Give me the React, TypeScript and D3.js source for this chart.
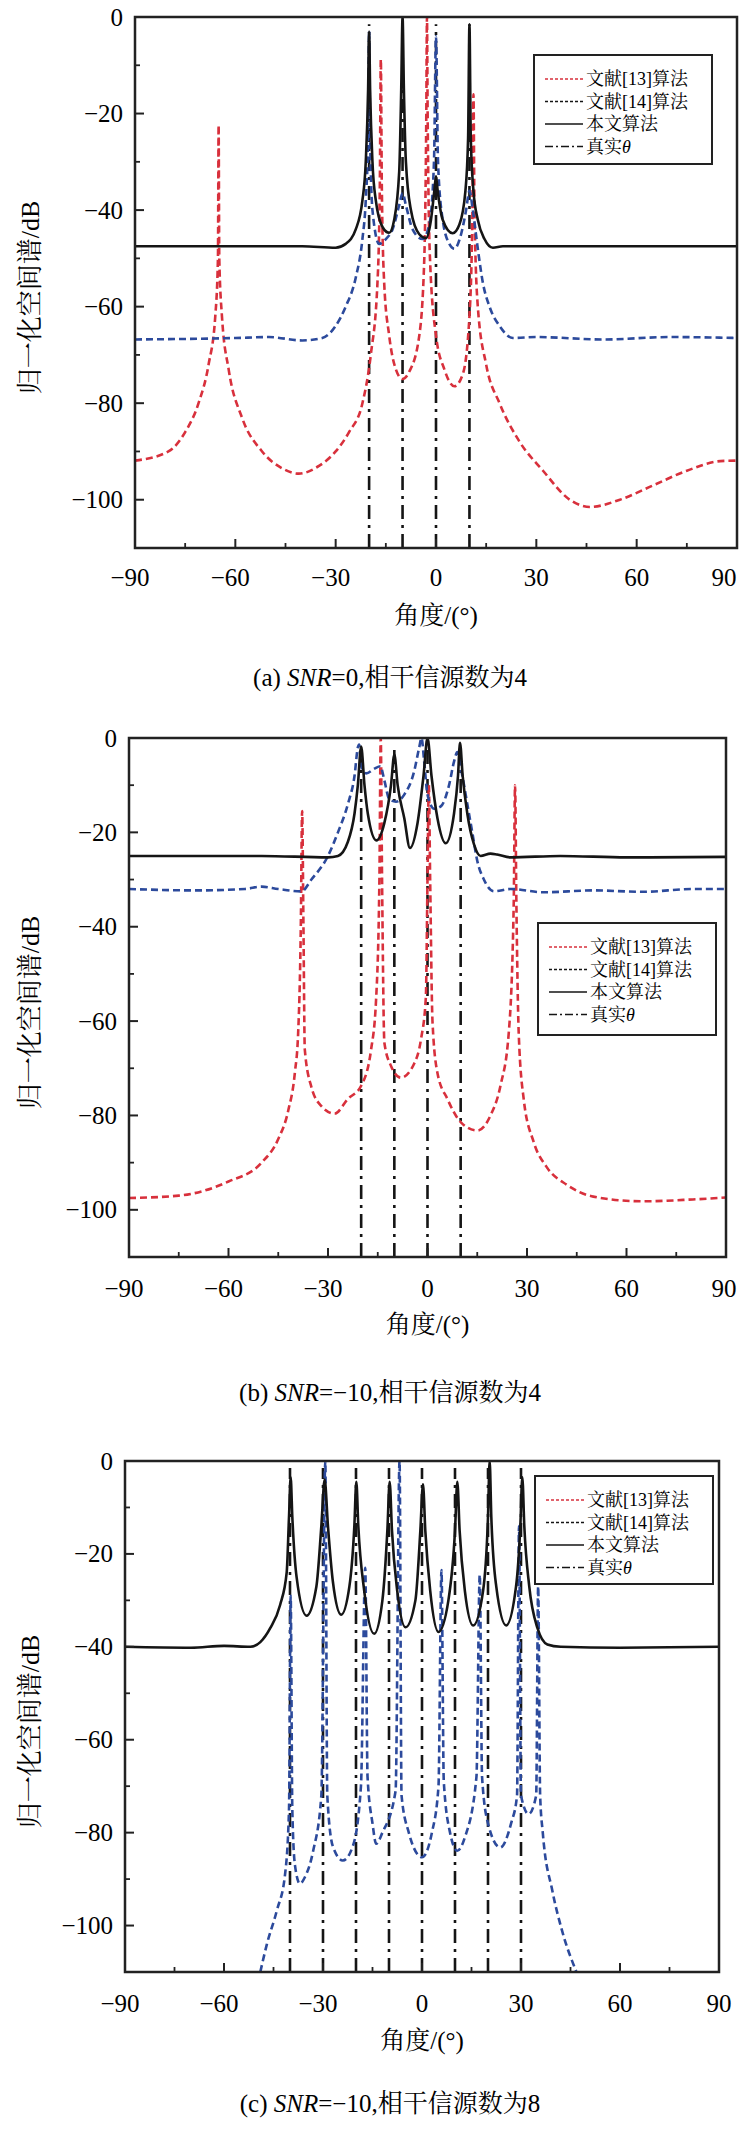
import * as d3 from 'd3';

type Pt = [number, number];

// ---- panel (a): SNR=0, 4 sources
const thetaA = [-20, -10, 0, 10];
const redA: Pt[] = [[-90,-91.9],[-80,-90],[-75,-86],[-71,-80],[-68,-72],[-66,-62],[-65.2,-50],[-65,-22.4],[-64.8,-50],[-64,-62],[-62,-73],[-58,-83],[-52,-90],[-46,-93.5],[-41,-94.6],[-35,-93],[-30,-90],[-26,-86],[-22,-80],[-19.5,-70],[-17.5,-55],[-16.8,-35],[-16.5,-8.8],[-16.2,-35],[-15.5,-55],[-14,-66],[-12,-73],[-10,-75],[-8,-73.5],[-5,-66],[-3.5,-50],[-2.9,-20],[-2.7,0],[-2.5,-20],[-1.8,-50],[0,-66],[2.5,-73],[5.5,-76.5],[8,-74],[10,-62],[10.9,-40],[11.2,-16],[11.5,-40],[12.5,-60],[15,-72],[19,-80],[25,-88],[32,-94],[40,-100],[46,-101.5],[55,-100],[65,-97],[75,-94],[85,-92],[90,-91.9]];
const blueA: Pt[] = [[-90,-66.8],[-60,-66.5],[-50,-66.3],[-40,-67],[-34,-66.5],[-30,-64],[-27,-60],[-24,-54],[-22,-46],[-21,-38],[-20.3,-25],[-20,-3],[-19.7,-25],[-19,-40],[-17,-47],[-15,-46],[-13,-44],[-11,-39],[-10,-36.5],[-9,-39],[-7,-44],[-4,-46],[-2,-43],[-0.6,-30],[0,-4],[0.6,-30],[2,-42],[4,-47],[5.5,-48],[7.5,-45],[9,-40],[10,-36],[11,-40],[12.5,-48],[14,-55],[16,-60],[19,-64],[23,-66.5],[30,-66.3],[50,-66.8],[70,-66.3],[90,-66.5]];
const blackA: Pt[] = [[-90,-47.5],[-40,-47.5],[-30,-47.8],[-27,-47],[-24,-44],[-22,-38],[-21,-30],[-20.3,-15],[-20,-3],[-19.7,-15],[-19,-30],[-18,-38],[-16,-43.5],[-14,-44.7],[-12.5,-42],[-11,-32],[-10.4,-15],[-10,0],[-9.6,-15],[-9,-30],[-7.5,-40],[-5,-45],[-3,-45.8],[-1.5,-42],[-0.5,-36],[0,-33],[0.5,-36],[2,-42],[5,-44.8],[7,-43],[8.8,-36],[9.6,-25],[10,-1.5],[10.4,-25],[11.2,-36],[12.5,-42],[14.5,-46],[17,-47.8],[20,-47.5],[90,-47.5]];

// ---- panel (b): SNR=-10, 4 sources
const thetaB = [-20, -10, 0, 10];
const redB: Pt[] = [[-90,-97.5],[-75,-97],[-60,-94],[-50,-90],[-45,-85],[-42,-79],[-40,-71],[-39,-62.5],[-38.2,-40],[-37.8,-15.5],[-37.4,-40],[-37,-66],[-35,-74],[-32,-78],[-28,-79.6],[-24,-76.5],[-20,-73.7],[-17,-66],[-15.5,-55.4],[-14.5,-30],[-14.1,0],[-13.7,-30],[-13,-64.6],[-11,-69.5],[-8,-72],[-4,-69],[-2,-64],[-0.5,-55],[0,-30],[0.4,-10],[0.8,-30],[1.5,-60],[3,-71],[6,-76.5],[10,-81.4],[15,-83.2],[19,-80],[22,-73.7],[24.5,-62.5],[26,-35],[26.4,-10],[26.8,-35],[27.5,-62.5],[29,-76.5],[32,-85.6],[36,-91],[42,-94.7],[50,-97.2],[65,-98.2],[80,-97.8],[90,-97.4]];
const blueB: Pt[] = [[-90,-32],[-70,-32.3],[-55,-32],[-50,-31.5],[-45,-32],[-38,-32.5],[-35,-30],[-30,-25],[-27,-20],[-24,-14],[-22,-8],[-21,-2],[-20.6,-1.4],[-20,-6],[-18.5,-7.5],[-16,-6.5],[-14.2,-6],[-13,-9],[-11.5,-13],[-9.5,-13.5],[-7,-12],[-4,-7],[-2.5,-2],[-1.8,0],[-1,-5],[0,-12],[2,-15],[4,-14.5],[6.5,-10],[8,-5],[9,-3],[10.5,-8],[12,-14],[13.5,-20],[15,-26],[17,-30],[20,-32.5],[25,-32],[35,-32.7],[50,-32.3],[65,-32.6],[80,-32],[90,-32]];
const blackB: Pt[] = [[-90,-25],[-50,-25],[-30,-25.3],[-27,-25],[-24,-22],[-22,-16],[-21,-10],[-20,-1.8],[-19,-10],[-18,-16],[-15.4,-21.7],[-13,-18],[-11,-10],[-10,-3.5],[-9,-10],[-7,-17],[-5.3,-23.3],[-3,-18],[-1.2,-8],[0,0],[1.2,-8],[3,-17],[5.5,-22.3],[8,-16],[9.2,-8],[9.8,-1],[10.6,-8],[12,-16],[14,-22.5],[16,-25],[19,-24.5],[21,-24.7],[25,-25.3],[40,-25],[60,-25.3],[90,-25.2]];

// ---- panel (c): SNR=-10, 8 sources
const thetaC = [-40, -30, -20, -10, 0, 10, 20, 30];
const blueC: Pt[] = [[-49,-110],[-47,-104],[-44,-96.8],[-41.5,-89],[-40.3,-75],[-39.8,-29],[-39.3,-75],[-38.5,-87],[-37,-91],[-35.5,-89.6],[-33,-84],[-30.5,-72],[-29.3,0],[-28.7,-72],[-27,-83],[-24,-86],[-21,-83],[-18.5,-70],[-17.2,-23],[-16.5,-68],[-15,-78],[-13.9,-82.4],[-12,-80],[-8,-71],[-6.8,0],[-6.2,-72],[-4,-80],[0,-85.3],[3,-80],[5,-70],[5.9,-23.5],[6.6,-69],[8.5,-80],[10.7,-83.9],[13,-81],[16.5,-68],[17.5,-24.5],[18.2,-68],[20,-78],[23.7,-83.2],[27,-78],[28.8,-72],[29.4,-14],[30,-72],[32.3,-76],[34.6,-72],[35.2,-27],[35.8,-72],[36.6,-80],[39.5,-92.5],[42.4,-101],[46.8,-110]];
const blackC: Pt[] = [[-90,-40],[-70,-40.2],[-60,-39.8],[-52,-40],[-49,-39],[-46,-36],[-43,-31],[-41,-24],[-40.3,-12],[-39.8,-3.5],[-39.3,-12],[-38,-25],[-35,-33.3],[-32,-27],[-30.5,-14],[-29.5,-4],[-28.5,-14],[-27,-26],[-24.5,-33.1],[-22,-27],[-20.5,-14],[-19.9,-4.5],[-19.3,-14],[-17.5,-28],[-14.5,-37.2],[-12,-30],[-10.5,-15],[-9.8,-4.5],[-9.1,-15],[-7.5,-28],[-5,-35.8],[-2,-30],[-0.5,-15],[0.3,-5],[1,-15],[2.5,-28],[5,-36.8],[8,-30],[10,-15],[10.7,-4.5],[11.4,-15],[13,-28],[15.5,-35.4],[18.5,-28],[20,-12],[20.5,0],[21,-12],[22.5,-27],[25.5,-35.4],[28.5,-27],[29.8,-14],[30.4,-3.5],[31,-14],[32.5,-27],[35,-36],[38,-39.5],[42,-40],[60,-40.2],[90,-40]];

const xTicks = [-90, -60, -30, 0, 30, 60, 90];
const yTicks = [0, -20, -40, -60, -80, -100];
const legendLabels = ['文献[13]算法', '文献[14]算法', '本文算法', '真实'];

const RED = '#d8303c';
const BLUE = '#2c4a9c';
const INK = '#151515';
const SERIF = '"Liberation Serif", "Noto Serif CJK SC", "Noto Sans CJK SC", serif';

interface PanelProps {
  id: string;
  left: number; right: number; top: number; bottom: number;
  legend: { x: number; y: number; w: number; h: number };
  labelY: number; titleY: number; captionY: number;
  tag: string; snr: string;
  red?: Pt[]; blue: Pt[]; black: Pt[]; theta: number[];
}

function Panel(p: PanelProps) {
  const x = d3.scaleLinear().domain([-90, 90]).range([p.left, p.right]);
  const y = d3.scaleLinear().domain([0, -110]).range([p.top, p.bottom]);
  const line = d3.line<Pt>().x(d => x(d[0])).y(d => y(d[1])).curve(d3.curveMonotoneX);
  const minorX = d3.range(-75, 90, 30);
  const minorY = d3.range(-10, -110, -20);
  const L = p.legend;
  const rows = [
    { c: RED, dash: '3,2', w: 1.4 },
    { c: INK, dash: '3,2', w: 1.4 },
    { c: INK, dash: '', w: 1.4 },
    { c: INK, dash: '8,3,2,3', w: 1.6 },
  ];
  return (
    <g>
      <defs>
        <clipPath id={`clip-${p.id}`}>
          <rect x={p.left} y={p.top} width={p.right - p.left} height={p.bottom - p.top} />
        </clipPath>
      </defs>
      <g clipPath={`url(#clip-${p.id})`} fill="none" strokeLinejoin="round">
        {p.theta.map(t => (
          <line key={t} x1={x(t)} x2={x(t)} y1={y(-110)} y2={y(-1.5)} stroke={INK} strokeWidth={2.6} strokeDasharray="14,6,3,6" />
        ))}
        {p.red && <path d={line(p.red) || ''} stroke={RED} strokeWidth={2.6} strokeDasharray="7,4" />}
        <path d={line(p.blue) || ''} stroke={BLUE} strokeWidth={2.6} strokeDasharray="7,4" />
        <path d={line(p.black) || ''} stroke={INK} strokeWidth={2.6} />
      </g>
      <rect x={p.left} y={p.top} width={p.right - p.left} height={p.bottom - p.top} fill="none" stroke="#222" strokeWidth={2.5} />
      {xTicks.map(t => (
        <g key={t}>
          <line x1={x(t)} x2={x(t)} y1={p.bottom} y2={p.bottom - 9} stroke="#222" strokeWidth={2} />
          <text x={Math.min(x(t) + (t < 0 ? -5 : 0), 724)} y={p.labelY} textAnchor="middle" dominantBaseline="central" fontFamily={SERIF} fontSize={25}>{t < 0 ? `−${-t}` : t}</text>
        </g>
      ))}
      {minorX.map(t => <line key={t} x1={x(t)} x2={x(t)} y1={p.bottom} y2={p.bottom - 5} stroke="#222" strokeWidth={1.8} />)}
      {yTicks.map(t => (
        <g key={t}>
          <line x1={p.left} x2={p.left + 9} y1={y(t)} y2={y(t)} stroke="#222" strokeWidth={2} />
          <text x={p.left - 12} y={y(t)} textAnchor="end" dominantBaseline="central" fontFamily={SERIF} fontSize={25}>{t < 0 ? `−${-t}` : t}</text>
        </g>
      ))}
      {minorY.map(t => <line key={t} x1={p.left} x2={p.left + 5} y1={y(t)} y2={y(t)} stroke="#222" strokeWidth={1.8} />)}
      <text x={(p.left + p.right) / 2} y={p.titleY} textAnchor="middle" dominantBaseline="central" fontFamily={SERIF} fontSize={25}>角度/(°)</text>
      <text transform={`translate(30,${(p.top + p.bottom) / 2 + 15}) rotate(-90)`} textAnchor="middle" dominantBaseline="central" fontFamily={SERIF} fontSize={26}>归一化空间谱/dB</text>
      <rect x={L.x} y={L.y} width={L.w} height={L.h} fill="#fff" stroke="#222" strokeWidth={2} />
      {rows.map((r, i) => {
        const ry = L.y + 24 + i * 22.5;
        return (
          <g key={i}>
            <line x1={L.x + 11} x2={L.x + 49} y1={ry} y2={ry} stroke={r.c} strokeWidth={r.w} strokeDasharray={r.dash} />
            <text x={L.x + 52} y={ry} dominantBaseline="central" fontFamily={SERIF} fontSize={18}>
              {legendLabels[i]}{i === 3 && <tspan fontStyle="italic">θ</tspan>}
            </text>
          </g>
        );
      })}
      <text x={390} y={p.captionY} textAnchor="middle" dominantBaseline="central" fontFamily={SERIF} fontSize={25}>
        ({p.tag}) <tspan fontStyle="italic">SNR</tspan>={p.snr},相干信源数为{p.theta.length}
      </text>
    </g>
  );
}

export default function App() {
  return (
    <svg width={742} height={2135} style={{ position: 'absolute', left: 0, top: 0, background: '#fff' }}>
      <rect width={742} height={2135} fill="#fff" />
      <Panel id="a" left={135} right={737} top={17} bottom={548} legend={{ x: 534, y: 55, w: 178, h: 109 }}
        labelY={577} titleY={615} captionY={677} tag="a" snr="0" red={redA} blue={blueA} black={blackA} theta={thetaA} />
      <Panel id="b" left={129} right={726} top={738} bottom={1257} legend={{ x: 538, y: 923, w: 178, h: 112 }}
        labelY={1288} titleY={1324} captionY={1392} tag="b" snr="−10" red={redB} blue={blueB} black={blackB} theta={thetaB} />
      <Panel id="c" left={125} right={719} top={1461} bottom={1972} legend={{ x: 535, y: 1476, w: 178, h: 108 }}
        labelY={2003} titleY={2040} captionY={2103} tag="c" snr="−10" blue={blueC} black={blackC} theta={thetaC} />
    </svg>
  );
}
